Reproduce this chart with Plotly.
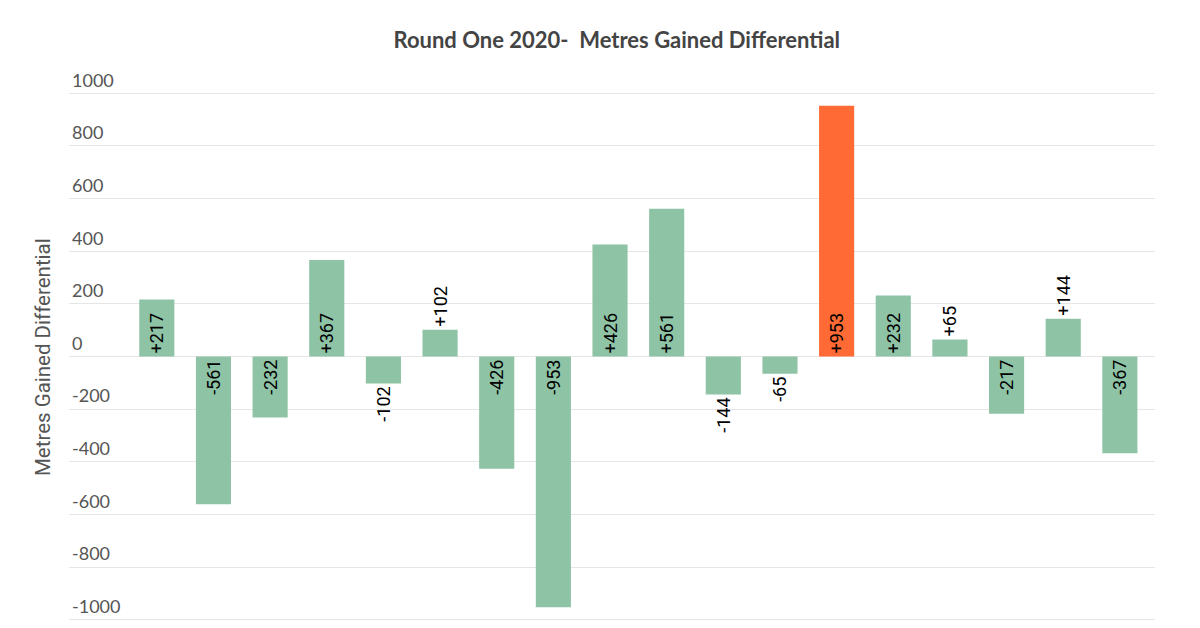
import plotly.graph_objects as go

values = [217, -561, -232, 367, -102, 102, -426, -953, 426, 561, -144, -65, 953, 232, 65, -217, 144, -367]
labels = ["+217", "-561", "-232", "+367", "-102", "+102", "-426", "-953", "+426", "+561",
          "-144", "-65", "+953", "+232", "+65", "-217", "+144", "-367"]
highlight_index = 12
tick_vals = [-1000, -800, -600, -400, -200, 0, 200, 400, 600, 800, 1000]

GREEN = "#8EC3A6"
ORANGE = "#FF6A35"

x = list(range(len(values)))
colors = [ORANGE if i == highlight_index else GREEN for i in x]
positions = ["outside" if abs(v) < 200 else "inside" for v in values]

fig = go.Figure(go.Bar(
    x=x, y=values, text=labels, textposition=positions,
    insidetextanchor="start", textangle=-90,
    textfont=dict(family="Roboto", size=18, color="#000000"),
    marker=dict(color=colors, line=dict(width=0)),
    width=0.62, cliponaxis=False, hoverinfo="skip",
))

fig.update_layout(
    width=1200, height=628,
    paper_bgcolor="white", plot_bgcolor="white",
    margin=dict(l=69, r=45, t=67, b=3, autoexpand=False),
    showlegend=False,
    uniformtext=dict(minsize=18, mode="show"),
    title=dict(text="<b>Round One 2020-\u00a0 Metres Gained Differential</b>",
               x=0.514, xanchor="center", y=0.936, yanchor="middle",
               font=dict(family="Lato", size=22, color="#444444")),
    xaxis=dict(range=[-1.55, 17.62], showticklabels=False, showgrid=False,
               zeroline=False, showline=False, ticks="", automargin=False),
    yaxis=dict(range=[-1020, 1100], tickvals=tick_vals,
               ticktext=[str(v) for v in tick_vals],
               ticklabelposition="inside", ticklabelshift=-13, ticklabelstandoff=0,
               tickfont=dict(family="Lato", size=18, color="#555555"),
               showgrid=True, gridcolor="#E6E6E6", gridwidth=1,
               zeroline=False, showline=False, ticks="", automargin=False),
    annotations=[dict(text="Metres Gained Differential", xref="paper", yref="paper",
                      x=-0.024, y=0.48, xanchor="center", yanchor="middle",
                      textangle=-90, showarrow=False,
                      font=dict(family="Roboto", size=20.5, color="#555555"))],
)

fig.write_html("out.html", config={"displayModeBar": False},
               post_script="document.body.style.margin='0';document.body.style.overflow='hidden';")
